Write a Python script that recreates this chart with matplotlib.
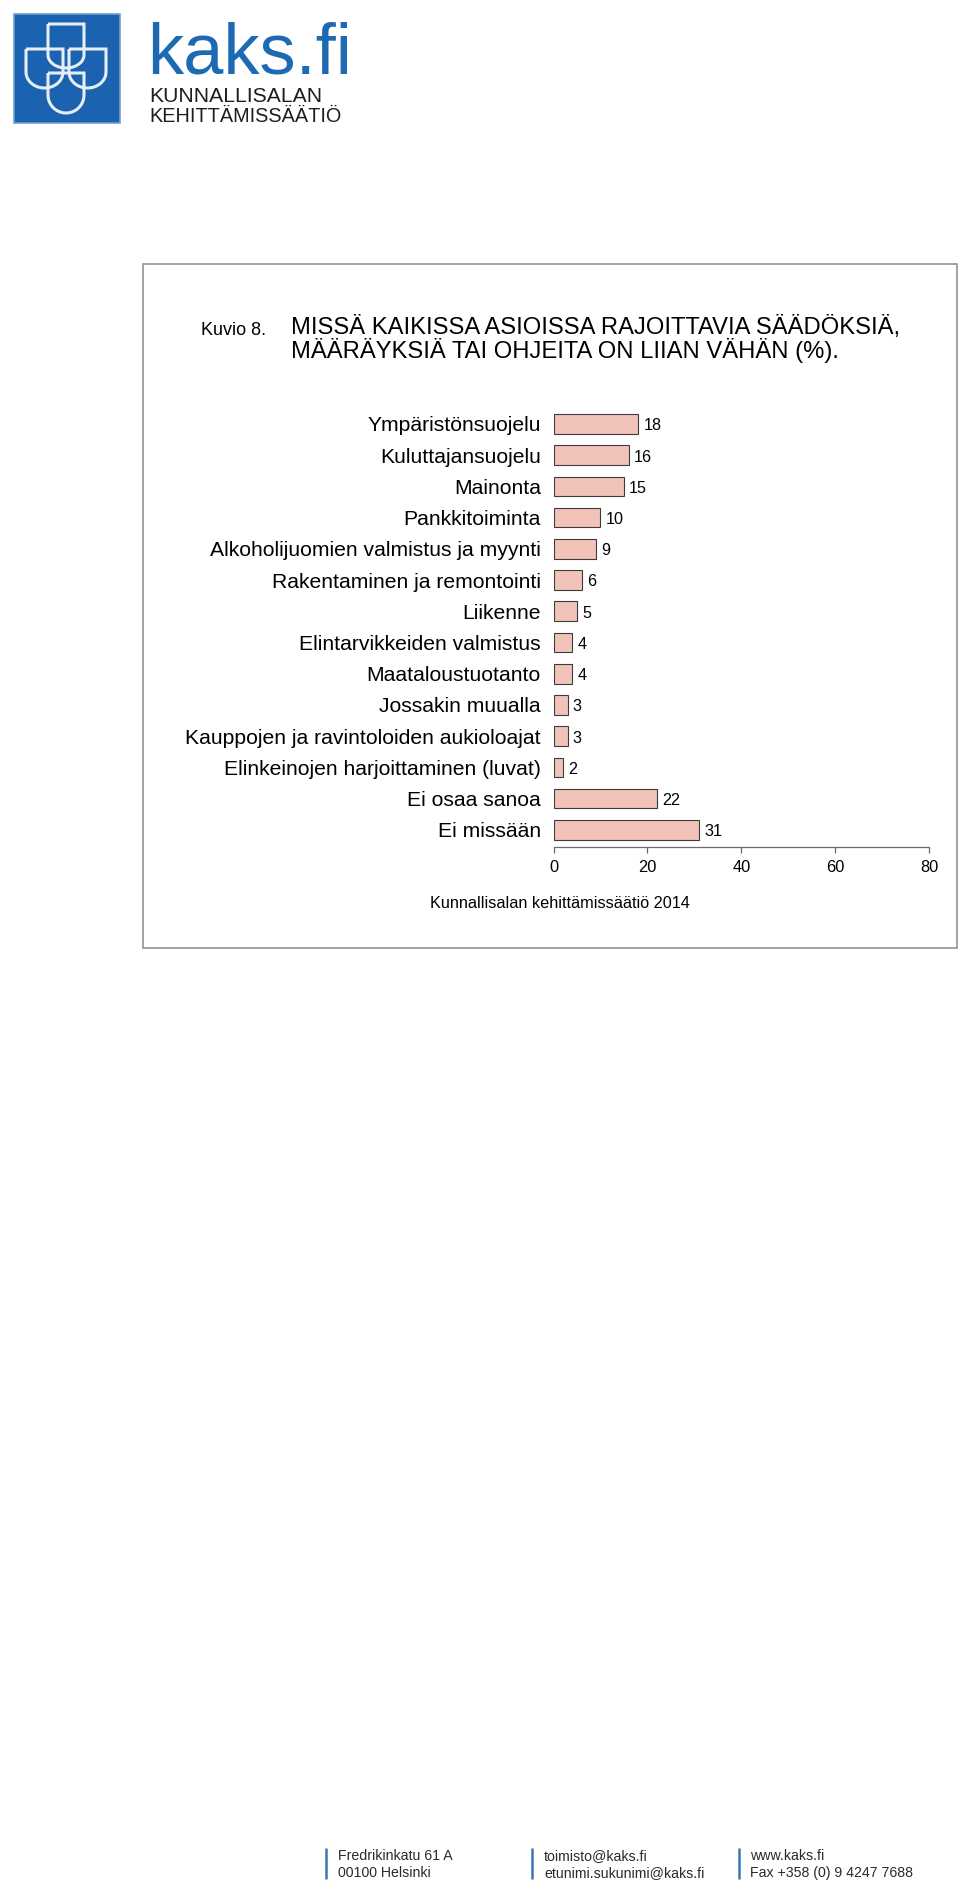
import matplotlib
matplotlib.use("Agg")
import matplotlib.pyplot as plt
from matplotlib.patches import Rectangle, PathPatch
from matplotlib.path import Path
import numpy as np

# ---- data ----
categories = [
    "Ympäristönsuojelu",
    "Kuluttajansuojelu",
    "Mainonta",
    "Pankkitoiminta",
    "Alkoholijuomien valmistus ja myynti",
    "Rakentaminen ja remontointi",
    "Liikenne",
    "Elintarvikkeiden valmistus",
    "Maataloustuotanto",
    "Jossakin muualla",
    "Kauppojen ja ravintoloiden aukioloajat",
    "Elinkeinojen harjoittaminen (luvat)",
    "Ei osaa sanoa",
    "Ei missään",
]
values = [18, 16, 15, 10, 9, 6, 5, 4, 4, 3, 3, 2, 22, 31]
x_ticks = [0, 20, 40, 60, 80]

title_label = "Kuvio 8."
title_lines = ["MISSÄ KAIKISSA ASIOISSA RAJOITTAVIA SÄÄDÖKSIÄ,",
               "MÄÄRÄYKSIÄ TAI OHJEITA ON LIIAN VÄHÄN (%)."]
source_text = "Kunnallisalan kehittämissäätiö 2014"
footer_cols = [("Fredrikinkatu 61 A", "00100 Helsinki"),
               ("toimisto@kaks.fi", "etunimi.sukunimi@kaks.fi"),
               ("www.kaks.fi", "Fax +358 (0) 9 4247 7688")]

W, H = 960, 1891
DPI = 100
plt.rcParams['font.family'] = ['Liberation Sans', 'DejaVu Sans']
fig = plt.figure(figsize=(W / DPI, H / DPI), dpi=DPI)
fig.patch.set_facecolor('white')

# background / decoration axes in pixel coordinates
bg = fig.add_axes([0, 0, 1, 1])
bg.set_xlim(0, W)
bg.set_ylim(H, 0)
bg.axis('off')

# ---- logo ----
logo_blue = '#1b63b0'
bg.add_patch(Rectangle((14, 14), 106, 109, facecolor=logo_blue, edgecolor='#6f9fd0', lw=1.2))

def ushape(x0, x1, ytop, ymid, ybot):
    cx = (x0 + x1) / 2
    rx = (x1 - x0) / 2
    ry = ybot - ymid
    t = np.linspace(0, np.pi, 30)
    arc = np.column_stack([cx + rx * np.cos(t), ymid + ry * np.sin(t)])
    verts = [(x0, ytop), (x1, ytop), (x1, ymid)] + [tuple(p) for p in arc] + [(x0, ytop)]
    codes = [Path.MOVETO] + [Path.LINETO] * (len(verts) - 1)
    return Path(verts, codes)

for (x0, x1, yt, ym, yb) in [(48, 84, 24, 55, 68), (26, 63, 49, 72, 88),
                             (69, 106, 49, 72, 88), (48, 84, 73, 95, 113)]:
    bg.add_patch(PathPatch(ushape(x0, x1, yt, ym, yb), facecolor='none',
                           edgecolor='#e6edf5', lw=2.2))

bg.text(147, 74, "kaks.fi", fontsize=52, color='#1c6ab4', va='baseline', ha='left')
bg.text(149, 102, "KUNNALLISALAN", fontsize=15.2, color='#1e1e1e', va='baseline', ha='left')
bg.text(149, 122, "KEHITTÄMISSÄÄTIÖ", fontsize=14.3, color='#1e1e1e', va='baseline', ha='left')

# ---- frame ----
bg.add_patch(Rectangle((142.5, 264), 957 - 142.5, 948 - 264, facecolor='none',
                       edgecolor='#8a8a8a', lw=1.1))

# ---- title ----
bg.text(201, 335, title_label, fontsize=13, color='black', va='baseline', ha='left')
bg.text(291, 334, title_lines[0], fontsize=17.1, color='black', va='baseline', ha='left')
bg.text(291, 358, title_lines[1], fontsize=17.1, color='black', va='baseline', ha='left')

# ---- source ----
bg.text(560, 903, source_text, fontsize=11.7, color='black', va='center', ha='center')

# ---- footer ----
bar_xs = [326, 532, 739]
text_xs = [338, 544, 750]
for bx, tx, (l1, l2) in zip(bar_xs, text_xs, footer_cols):
    bg.plot([bx, bx], [1848, 1879], color='#3a78b5', lw=1.8, solid_capstyle='butt')
    bg.text(tx, 1856, l1, fontsize=10.2, color='#2a2a2a', va='center', ha='left')
    bg.text(tx, 1873, l2, fontsize=10.2, color='#2a2a2a', va='center', ha='left')

# ---- main chart ----
x0_px, x80_px = 553.5, 929.3
axis_y_px = 847.3
top_px = 400
first_c, step = 423.9, 31.23
ax = fig.add_axes([x0_px / W, (H - axis_y_px) / H, (x80_px - x0_px) / W, (axis_y_px - top_px) / H])
ax.patch.set_alpha(0)
n = len(categories)
ypos = np.arange(n)
ax.barh(ypos, values, height=0.63, color='#f2c3b9', edgecolor='#3c3c3c', linewidth=0.8)
ax.set_xlim(0, 80)
ax.set_ylim((axis_y_px - first_c) / step, (top_px - first_c) / step)

for sp in ['top', 'right', 'left']:
    ax.spines[sp].set_visible(False)
ax.spines['bottom'].set_bounds(0, 80)
ax.spines['bottom'].set_color('#6a6a6a')
ax.spines['bottom'].set_linewidth(0.9)
ax.set_xticks(x_ticks)
ax.set_xticklabels([str(t) for t in x_ticks])
ax.tick_params(axis='x', direction='out', length=4.3, width=0.9, color='#6a6a6a',
               labelsize=11.8, pad=4.5, labelcolor='black')
ax.set_yticks(ypos)
ax.set_yticklabels(categories)
ax.tick_params(axis='y', length=0, pad=9, labelsize=15.2, labelcolor='black')

for y, v in zip(ypos, values):
    ax.annotate(str(v), xy=(v, y), xytext=(3.8, -1.4), textcoords='offset points',
                va='center', ha='left', fontsize=11.6, color='black')

fig.savefig('out.png', dpi=DPI, facecolor='white')
